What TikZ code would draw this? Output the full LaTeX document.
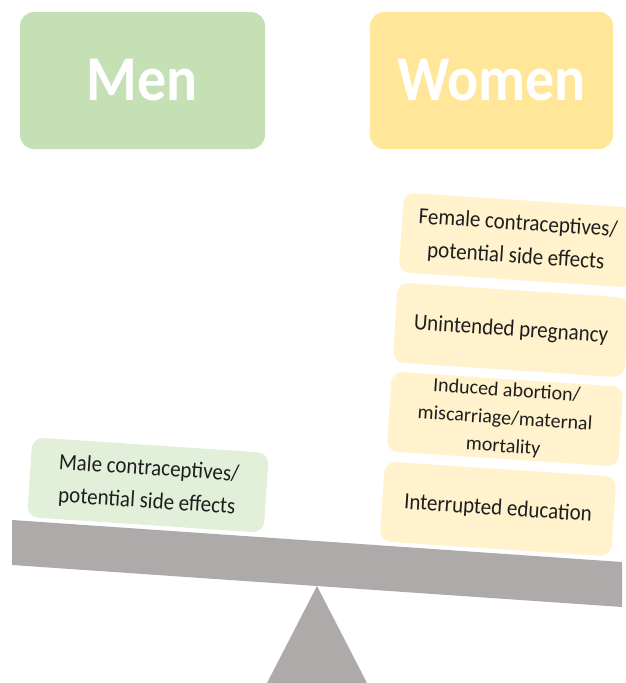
\documentclass[tikz,border=0pt]{standalone}
\usepackage{fontspec}
\setmainfont{Carlito}
\definecolor{menbig}{HTML}{C5E0B4}
\definecolor{womenbig}{HTML}{FFE699}
\definecolor{mensmall}{HTML}{E2F0D9}
\definecolor{womensmall}{HTML}{FFF2CC}
\definecolor{beamgray}{HTML}{AEAAAA}
\definecolor{txt}{HTML}{1E1E1E}
\newcommand{\vst}[1]{\scalebox{1}[1.1]{#1}}
\tikzset{
  bigbox/.style={rounded corners=14pt, minimum width=245pt, minimum height=137pt, inner sep=0pt,
    text=white, font=\fontsize{58}{60}\selectfont\bfseries},
  smallbox/.style={rounded corners=11pt, minimum width=232pt, minimum height=80pt, inner sep=0pt,
    text=txt, rotate=-3.8},
  wsmall/.style={smallbox, fill=womensmall},
  msmall/.style={smallbox, fill=mensmall, minimum width=237pt},
  tfont/.style={font=\fontsize{21}{30}\selectfont},
}
\begin{document}
\begin{tikzpicture}[x=1pt,y=1pt]
\useasboundingbox (0,0) rectangle (626,-683);
% header boxes
\node[bigbox, fill=menbig] (men) at (142.5,-80.5) {\vst{Men}};
\node[bigbox, fill=womenbig, minimum width=243pt] (women) at (491.5,-80.5) {\vst{Women}};
% fulcrum and beam
\path[fill=beamgray] (317,-586) coordinate (apex) -- (267,-683) -- (367,-683) -- cycle;
\path[fill=beamgray] (12,-520) -- (622,-562) -- (622,-607) -- (12,-565) -- cycle;
% women stack
\begin{scope}
\clip (0,0) rectangle (626,-683);
\node[wsmall, tfont] (f1) at (517,-240) {\vst{\begin{tabular}{@{}c@{}}Female contraceptives/\\potential side effects\end{tabular}}};
\end{scope}
\node[wsmall, tfont] (f2) at (511,-330) {\vst{Unintended pregnancy}};
\node[wsmall, font=\fontsize{20}{28}\selectfont, align=center] (f3) at (505,-419) {Induced abortion/\\miscarriage/maternal\\mortality};
\node[wsmall, tfont] (f4) at (498,-509) {\vst{Interrupted education}};
% men
\node[msmall, tfont] (m1) at (148,-485) {\vst{\begin{tabular}{@{}c@{}}Male contraceptives/\\potential side effects\end{tabular}}};
\end{tikzpicture}
\end{document}
